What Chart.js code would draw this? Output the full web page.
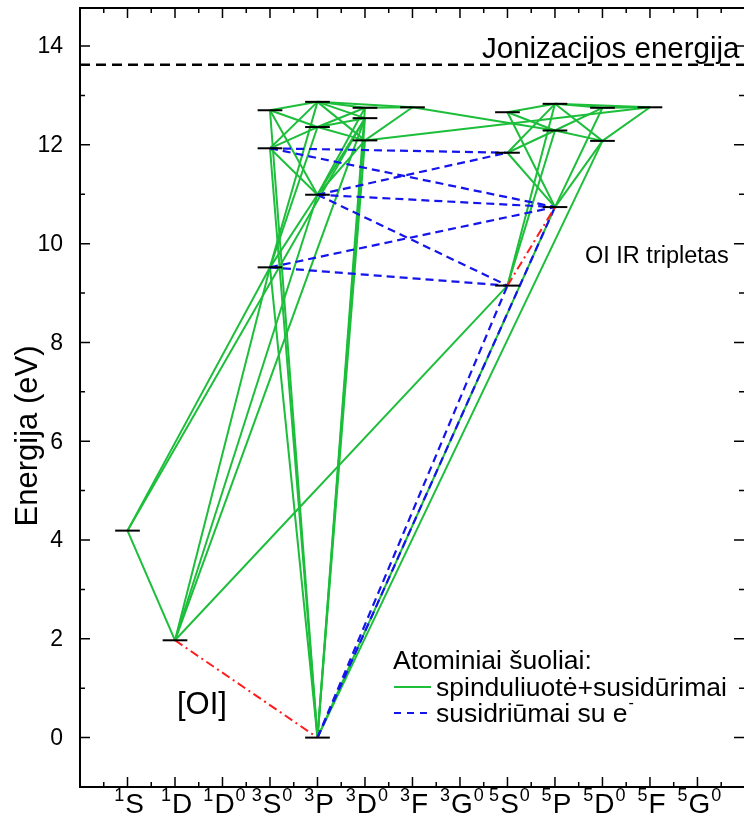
<!DOCTYPE html>
<html>
<head>
<meta charset="utf-8">
<script src="https://cdn.jsdelivr.net/npm/chart.js@4.4.1/dist/chart.umd.min.js"></script>
<style>
html,body{margin:0;padding:0;background:#fff;}
#wrap{width:744px;height:830px;position:relative;}
</style>
</head>
<body>
<div id="wrap"><canvas id="grotrian"></canvas></div>
<script>
// terms along the x axis: multiplicity, letter, parity mark
const termMult   = ['1','1','1','3','3','3','3','3','5','5','5','5','5'];
const termLetter = ['S','D','D','S','P','D','F','G','S','P','D','F','G'];
const termParity = ['','','0','0','','0','','0','0','','0','','0'];

// energy levels (eV); levelTerm = index of the term above
const levelIds    = ['1S','1D','g','S9','S11','S12','P10','P12a','P12b','D12a','D12b','D12c','F3','Q9','Q11','Q12','R10','R12a','R12b','T12a','T12b','F5'];
const levelTerm   = [0, 1, 4, 3, 3, 3, 4, 4, 4, 5, 5, 5, 6, 8, 8, 8, 9, 9, 9, 10, 10, 11];
const levelEnergy = [4.19, 1.97, 0, 9.52, 11.93, 12.70, 10.99, 12.36, 12.87, 12.09, 12.54, 12.75, 12.76, 9.15, 11.84, 12.66, 10.74, 12.29, 12.83, 12.08, 12.75, 12.76];

const ionizationEnergy = 13.62;
const yTicks = [0, 2, 4, 6, 8, 10, 12, 14];

// transitions: radiation + collisions (green)
const greenPairs = [
  ['1S','1D'], ['1S','S9'], ['1S','D12b'],
  ['1D','S9'], ['1D','P10'], ['1D','D12b'], ['1D','Q9'],
  ['g','S9'], ['g','S11'], ['g','S12'], ['g','D12a'], ['g','D12b'], ['g','D12c'], ['g','R10'], ['g','T12a'],
  ['S9','P10'], ['S9','P12a'], ['S9','P12b'],
  ['S11','P10'], ['S11','P12a'], ['S11','P12b'],
  ['S12','P10'], ['S12','P12a'], ['S12','P12b'],
  ['P10','D12a'], ['P10','D12b'], ['P10','D12c'],
  ['P12a','D12a'], ['P12a','D12b'], ['P12a','D12c'],
  ['P12b','D12a'], ['P12b','D12b'], ['P12b','D12c'], ['P12b','F3'],
  ['D12a','F3'], ['D12c','F3'], ['D12a','F5'], ['F3','R12a'],
  ['Q9','R12a'], ['Q9','R12b'],
  ['Q11','R10'], ['Q11','R12a'], ['Q11','R12b'],
  ['Q12','R10'], ['Q12','R12a'], ['Q12','R12b'],
  ['R10','T12a'], ['R10','T12b'],
  ['R12a','T12a'], ['R12a','T12b'],
  ['R12b','T12a'], ['R12b','T12b'], ['R12b','F5'],
  ['T12a','F5'], ['T12b','F5']
];
// electron collisions (blue dashed)
const bluePairs = [
  ['S11','Q11'], ['S11','R10'], ['P10','Q11'], ['P10','R10'], ['P10','Q9'],
  ['S9','R10'], ['S9','Q9'], ['g','Q9'], ['g','R10']
];
// forbidden [OI] and IR triplet (red dash-dot)
const redPairs = [['1D','g'], ['Q9','R10']];

const fontFam = "'Liberation Sans', Arial, sans-serif";

function pt(id) {
  const k = levelIds.indexOf(id);
  return {x: levelTerm[k], y: levelEnergy[k]};
}

const datasets = [];
// level markers
for (let k = 0; k < levelIds.length; k++) {
  datasets.push({
    data: [{x: levelTerm[k] - 0.26, y: levelEnergy[k]}, {x: levelTerm[k] + 0.26, y: levelEnergy[k]}],
    borderColor: '#000', borderWidth: 2, order: 0
  });
}
redPairs.forEach(p => datasets.push({
  data: [pt(p[0]), pt(p[1])], borderColor: '#ff1c1c', borderWidth: 2,
  borderDash: [9, 4, 2, 4], order: 1
}));
bluePairs.forEach(p => datasets.push({
  data: [pt(p[0]), pt(p[1])], borderColor: '#1414ec', borderWidth: 2.2,
  borderDash: [8, 5], order: 2
}));
greenPairs.forEach(p => datasets.push({
  data: [pt(p[0]), pt(p[1])], borderColor: '#1cbe3a', borderWidth: 2, order: 3
}));
datasets.push({
  data: [{x: -1, y: ionizationEnergy}, {x: 13, y: ionizationEnergy}],
  borderColor: '#000', borderWidth: 2.5, borderDash: [10, 6], order: 4
});

const decor = {
  id: 'decor',
  afterDatasetsDraw(chart) {
    const {ctx, chartArea: a, scales: {x, y}} = chart;
    ctx.save();
    ctx.strokeStyle = '#000';
    ctx.fillStyle = '#000';
    // frame
    ctx.lineWidth = 2;
    ctx.beginPath();
    ctx.moveTo(a.right + 2, a.top); ctx.lineTo(a.left, a.top);
    ctx.lineTo(a.left, a.bottom); ctx.lineTo(a.right + 2, a.bottom);
    ctx.stroke();
    // inward ticks
    ctx.lineWidth = 1.5;
    ctx.beginPath();
    for (let i = -1; i <= termLetter.length; i++) {
      const px = x.getPixelForValue(i);
      if (i >= 0 && i < termLetter.length) {
        ctx.moveTo(px, a.bottom); ctx.lineTo(px, a.bottom - 10);
        ctx.moveTo(px, a.top); ctx.lineTo(px, a.top + 10);
      }
      const mx = x.getPixelForValue(i + 0.5);
      if (mx > a.left && mx < a.right) {
        ctx.moveTo(mx, a.bottom); ctx.lineTo(mx, a.bottom - 5);
        ctx.moveTo(mx, a.top); ctx.lineTo(mx, a.top + 5);
      }
    }
    for (let v = 0; v <= 14; v++) {
      const py = y.getPixelForValue(v);
      const len = v % 2 === 0 ? 10 : 5;
      ctx.moveTo(a.left, py); ctx.lineTo(a.left + len, py);
      ctx.moveTo(a.right, py); ctx.lineTo(a.right - len, py);
    }
    ctx.stroke();

    // y tick labels
    ctx.font = '23px ' + fontFam;
    ctx.textAlign = 'right';
    ctx.textBaseline = 'middle';
    yTicks.forEach(v => ctx.fillText(String(v), 63, y.getPixelForValue(v) + 1));

    // y title
    ctx.save();
    ctx.translate(28, 436);
    ctx.rotate(-Math.PI / 2);
    ctx.textAlign = 'center';
    ctx.textBaseline = 'middle';
    ctx.font = '31px ' + fontFam;
    ctx.fillText('Energija (eV)', 0, 0);
    ctx.restore();

    // x term labels with superscripts
    ctx.textAlign = 'left';
    ctx.textBaseline = 'alphabetic';
    const supFont = '18px ' + fontFam, mainFont = '28px ' + fontFam;
    for (let i = 0; i < termLetter.length; i++) {
      ctx.font = supFont;
      const w1 = ctx.measureText(termMult[i]).width;
      const w3 = ctx.measureText(termParity[i]).width;
      ctx.font = mainFont;
      const w2 = ctx.measureText(termLetter[i]).width;
      const sx = x.getPixelForValue(i) - (w1 + w2 + w3) / 2 + 1;
      ctx.font = supFont;
      ctx.fillText(termMult[i], sx, 801);
      ctx.font = mainFont;
      ctx.fillText(termLetter[i], sx + w1 + 1, 813);
      ctx.font = supFont;
      ctx.fillText(termParity[i], sx + w1 + w2 + 2, 801);
    }

    // annotations
    ctx.font = '29.5px ' + fontFam;
    ctx.fillText('Jonizacijos energija', 482, 58);
    ctx.font = '23.5px ' + fontFam;
    ctx.fillText('OI IR tripletas', 585, 263);
    ctx.font = '31px ' + fontFam;
    ctx.fillText('[OI]', 177, 714);

    // legend
    ctx.font = '26.5px ' + fontFam;
    ctx.fillText('Atominiai šuoliai:', 393, 669);
    ctx.fillText('spinduliuotė+susidūrimai', 436, 696);
    const t = 'susidriūmai su e';
    ctx.fillText(t, 436, 722);
    const tw = ctx.measureText(t).width;
    ctx.font = '16px ' + fontFam;
    ctx.fillText('-', 436 + tw + 1, 708);
    ctx.lineWidth = 2;
    ctx.strokeStyle = '#1cbe3a';
    ctx.beginPath(); ctx.moveTo(394, 687); ctx.lineTo(431, 687); ctx.stroke();
    ctx.strokeStyle = '#1414ec';
    ctx.setLineDash([7, 6]);
    ctx.beginPath(); ctx.moveTo(394, 713); ctx.lineTo(431, 713); ctx.stroke();
    ctx.restore();
  }
};

new Chart(document.getElementById('grotrian'), {
  type: 'scatter',
  data: {datasets: datasets},
  options: {
    responsive: true,
    maintainAspectRatio: false,
    animation: false,
    showLine: true,
    elements: {point: {radius: 0, hoverRadius: 0}, line: {tension: 0}},
    layout: {padding: {top: 8, right: 0, bottom: 0, left: 0}},
    plugins: {legend: {display: false}, tooltip: {enabled: false}},
    scales: {
      x: {
        type: 'linear', min: -1, max: 12.98,
        grid: {display: false}, border: {display: false},
        ticks: {display: false},
        afterFit(s) { s.height = 43; }
      },
      y: {
        type: 'linear', min: -1, max: 14.77,
        grid: {display: false}, border: {display: false},
        ticks: {display: false},
        afterFit(s) { s.width = 80; }
      }
    }
  },
  plugins: [decor]
});
</script>
</body>
</html>
